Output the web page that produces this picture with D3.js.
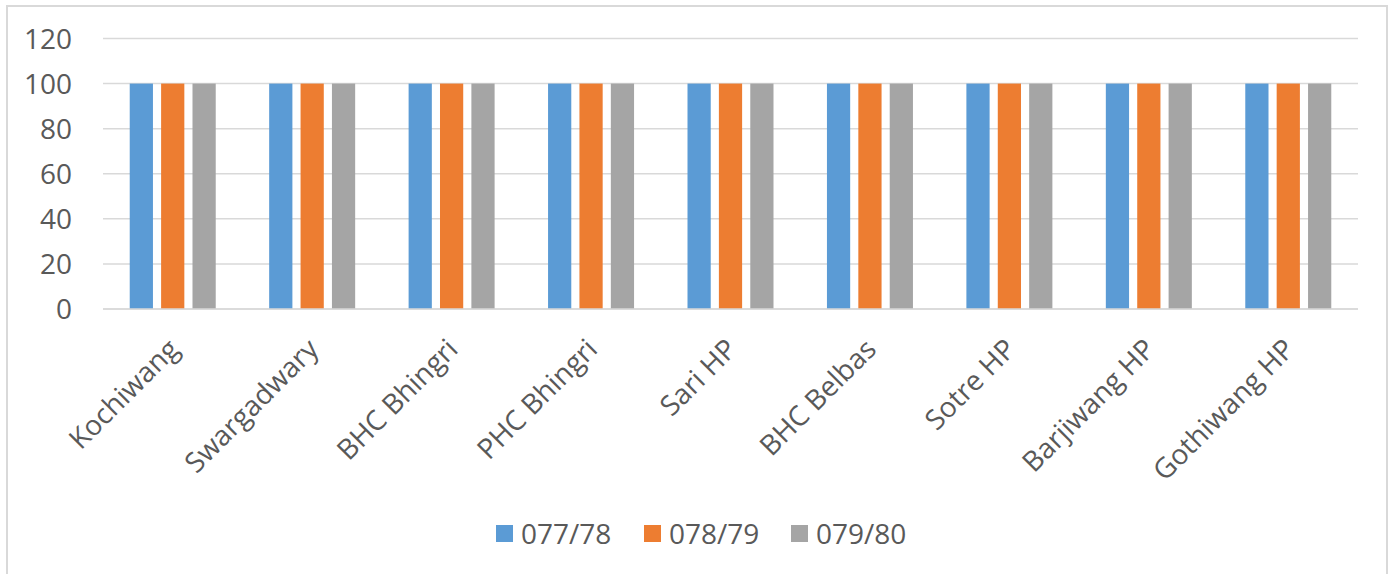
<!DOCTYPE html>
<html>
<head>
<meta charset="utf-8">
<script src="https://cdn.jsdelivr.net/npm/d3@7"></script>
<style>
  body { margin: 0; background: #fff; }
  svg text { font-family: "Open Sans", Lato, sans-serif; fill: #595959; }
</style>
</head>
<body>
<div id="chart"></div>
<script>
// chart data
const categories = ["Kochiwang", "Swargadwary", "BHC Bhingri", "PHC Bhingri", "Sari HP",
                    "BHC Belbas", "Sotre HP", "Barjiwang HP", "Gothiwang HP"];
const seriesNames = ["077/78", "078/79", "079/80"];
const values077 = [100, 100, 100, 100, 100, 100, 100, 100, 100];
const values078 = [100, 100, 100, 100, 100, 100, 100, 100, 100];
const values079 = [100, 100, 100, 100, 100, 100, 100, 100, 100];
const yTicks = [0, 20, 40, 60, 80, 100, 120];
const colors = ["#5b9bd5", "#ed7d31", "#a5a5a5"];

const seriesValues = [values077, values078, values079];

const width = 1394, height = 574;
const margin = {left: 103, right: 36, top: 38.5, bottom: 265};
const fontSize = "28px";

const svg = d3.select("#chart").append("svg")
    .attr("width", width)
    .attr("height", height);

// chart border (bottom edge is off the picture)
svg.append("path")
    .attr("d", "M7,580 L7,6 L1387,6 L1387,580")
    .attr("fill", "none")
    .attr("stroke", "#d9d9d9")
    .attr("stroke-width", 2);

const x = d3.scaleBand()
    .domain(categories)
    .range([margin.left, width - margin.right]);

const y = d3.scaleLinear()
    .domain([0, 120])
    .range([height - margin.bottom, margin.top]);

// gridlines
svg.append("g")
    .selectAll("line")
    .data(yTicks)
    .join("line")
    .attr("x1", x.range()[0])
    .attr("x2", x.range()[1])
    .attr("y1", d => y(d))
    .attr("y2", d => y(d))
    .attr("stroke", "#d9d9d9")
    .attr("stroke-width", 1.5);

// y labels
svg.append("g")
    .selectAll("text")
    .data(yTicks)
    .join("text")
    .attr("x", 72)
    .attr("y", d => y(d))
    .attr("dy", "0.36em")
    .attr("text-anchor", "end")
    .style("font-size", fontSize)
    .text(d => d);

// bars
const inner = d3.scaleBand()
    .domain(seriesNames)
    .range([-43, 43])
    .paddingInner(0.26);

seriesNames.forEach((name, si) => {
    svg.append("g")
        .attr("fill", colors[si])
        .selectAll("rect")
        .data(categories)
        .join("rect")
        .attr("x", (c) => x(c) + x.bandwidth() / 2 + inner(name))
        .attr("width", inner.bandwidth())
        .attr("y", (c, i) => y(seriesValues[si][i]))
        .attr("height", (c, i) => y(0) - y(seriesValues[si][i]));
});

// baseline on top of bars
svg.append("line")
    .attr("x1", x.range()[0])
    .attr("x2", x.range()[1])
    .attr("y1", y(0))
    .attr("y2", y(0))
    .attr("stroke", "#d9d9d9")
    .attr("stroke-width", 1.5);

// category labels, rotated
svg.append("g")
    .selectAll("text")
    .data(categories)
    .join("text")
    .attr("transform", c => `translate(${x(c) + x.bandwidth() / 2 + 1},${y(0) + 35}) rotate(-45)`)
    .attr("text-anchor", "end")
    .attr("dy", "0.35em")
    .style("font-size", fontSize)
    .text(c => c);

// legend
const legendX = [496, 644, 791];
const legend = svg.append("g")
    .selectAll("g")
    .data(seriesNames)
    .join("g")
    .attr("transform", (d, i) => `translate(${legendX[i]},525)`);

legend.append("rect")
    .attr("width", 17)
    .attr("height", 17)
    .attr("fill", (d, i) => colors[i]);

legend.append("text")
    .attr("x", 25)
    .attr("y", 8.5)
    .attr("dy", "0.36em")
    .style("font-size", fontSize)
    .text(d => d);
</script>
</body>
</html>
